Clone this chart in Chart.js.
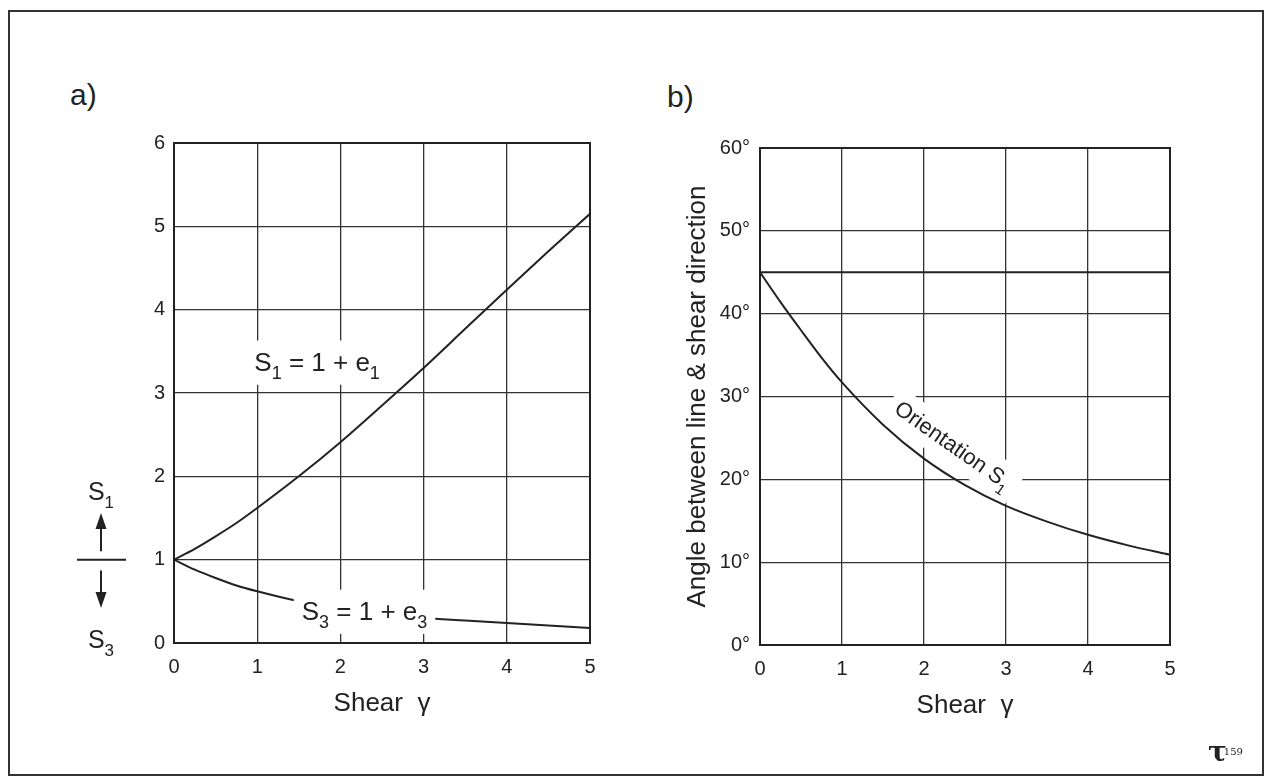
<!DOCTYPE html>
<html lang="en">
<head>
  <meta charset="UTF-8" />
  <title>Simple shear - principal stretches</title>
  <script src="https://cdn.jsdelivr.net/npm/chart.js"></script>
  <style>
    body {
      margin: 0;
      background: #fff;
      font-family: 'Liberation Sans', Arial, Helvetica, sans-serif;
      color: #222;
    }
    .page {
      position: relative;
      width: 1264px;
      height: 776px;
      overflow: hidden;
    }
    .frame {
      position: absolute;
      left: 8px;
      top: 10px;
      width: 1252px;
      height: 762px;
      border: 2px solid #333;
    }
    canvas { position: absolute; top: 0; }
    #chartA { left: 0; }
    #chartB { left: 632px; }
    .panel-tag {
      position: absolute;
      font-size: 30px;
    }
    .logo {
      position: absolute;
      left: 1208px;
      top: 735px;
      font-family: 'DejaVu Serif', 'Liberation Serif', serif;
      font-weight: bold;
      font-size: 28px;
      color: #222;
    }
    .logo sub { font-size: 10px; font-weight: normal; vertical-align: 6px; margin-left: -3px; }
  </style>
</head>
<body>
<div class="page">
  <div class="frame"></div>
  <div class="panel-tag" style="left:70px; top:78px;">a)</div>
  <div class="panel-tag" style="left:667px; top:80px;">b)</div>
  <canvas id="chartA" width="632" height="776"></canvas>
  <canvas id="chartB" width="632" height="776"></canvas>
  <div class="logo">τ<sub>159</sub></div>
</div>

<script>
  // values
  const gamma = [0, 0.25, 0.5, 0.75, 1, 1.5, 2, 2.5, 3, 3.5, 4, 4.5, 5];
  const stretchS1 = [1, 1.13, 1.28, 1.44, 1.62, 2.0, 2.41, 2.85, 3.30, 3.77, 4.24, 4.70, 5.15];
  const stretchS3 = [1, 0.88, 0.78, 0.69, 0.62, 0.50, 0.41, 0.35, 0.30, 0.27, 0.24, 0.21, 0.18];
  const refAngle = [45, 45, 45, 45, 45, 45, 45, 45, 45, 45, 45, 45, 45];
  const orientS1 = [45, 41.4, 38.0, 34.7, 31.7, 26.6, 22.5, 19.3, 16.8, 14.9, 13.3, 12.0, 10.9];

  const stretchTicks = [0, 1, 2, 3, 4, 5, 6];
  const angleTicks = [0, 10, 20, 30, 40, 50, 60];
  const shearTicks = [0, 1, 2, 3, 4, 5];

  const FONT = "'Liberation Sans', Arial, Helvetica, sans-serif";
  const INK = '#222';

  const pts = (xs, ys) => xs.map((x, i) => ({ x: x, y: ys[i] }));

  // text with subscripts: parts = [[text, isSub], ...]
  function richText(ctx, parts, cx, cy, size, withBox) {
    const subSize = Math.round(size * 0.68);
    let w = 0;
    parts.forEach(p => {
      ctx.font = (p[1] ? subSize : size) + 'px ' + FONT;
      w += ctx.measureText(p[0]).width;
    });
    if (withBox) {
      ctx.fillStyle = '#fff';
      ctx.fillRect(cx - w / 2 - 8, cy - size * 0.8, w + 16, size * 1.7);
    }
    let x = cx - w / 2;
    ctx.fillStyle = INK;
    ctx.textBaseline = 'alphabetic';
    ctx.textAlign = 'left';
    parts.forEach(p => {
      ctx.font = (p[1] ? subSize : size) + 'px ' + FONT;
      ctx.fillText(p[0], x, cy + size * 0.36 + (p[1] ? size * 0.32 : 0));
      x += ctx.measureText(p[0]).width;
    });
  }

  const boxPlugin = {
    id: 'box',
    beforeDatasetsDraw(chart) {
      const a = chart.chartArea, ctx = chart.ctx;
      ctx.save();
      ctx.strokeStyle = INK;
      ctx.lineWidth = 2;
      ctx.strokeRect(a.left, a.top, a.right - a.left, a.bottom - a.top);
      ctx.restore();
    }
  };

  function drawLabels(chart, labels) {
    const ctx = chart.ctx, sx = chart.scales.x, sy = chart.scales.y;
    labels.forEach(l => {
      ctx.save();
      ctx.translate(sx.getPixelForValue(l.x), sy.getPixelForValue(l.y));
      ctx.rotate((l.angle || 0) * Math.PI / 180);
      richText(ctx, l.parts, 0, 0, l.size, true);
      ctx.restore();
    });
  }

  // labels under the curves (box hides grid only) and over them (box cuts the curve)
  function labelsPlugin(under, over, extra) {
    return {
      id: 'curveLabels',
      beforeDatasetsDraw(chart) { drawLabels(chart, under); },
      afterDatasetsDraw(chart) {
        drawLabels(chart, over);
        if (extra) { chart.ctx.save(); extra(chart); chart.ctx.restore(); }
      }
    };
  }

  function arrow(ctx, x, y1, y2) {
    const dir = Math.sign(y2 - y1);
    ctx.beginPath();
    ctx.moveTo(x, y1);
    ctx.lineTo(x, y2 - dir * 10);
    ctx.stroke();
    ctx.beginPath();
    ctx.moveTo(x, y2);
    ctx.lineTo(x - 5.5, y2 - dir * 16);
    ctx.lineTo(x + 5.5, y2 - dir * 16);
    ctx.closePath();
    ctx.fill();
  }

  // S1 / S3 key left of panel a
  function stretchKey(chart) {
    const ctx = chart.ctx, sy = chart.scales.y;
    const cx = chart.chartArea.left - 73;
    ctx.strokeStyle = INK;
    ctx.fillStyle = INK;
    ctx.lineWidth = 2;
    ctx.beginPath();
    ctx.moveTo(cx - 24, sy.getPixelForValue(1));
    ctx.lineTo(cx + 25, sy.getPixelForValue(1));
    ctx.stroke();
    arrow(ctx, cx, sy.getPixelForValue(1.1), sy.getPixelForValue(1.56));
    arrow(ctx, cx, sy.getPixelForValue(0.87), sy.getPixelForValue(0.42));
    richText(ctx, [['S', false], ['1', true]], cx, sy.getPixelForValue(1.83), 25, false);
    richText(ctx, [['S', false], ['3', true]], cx, sy.getPixelForValue(0.05), 25, false);
  }

  function axisOpts(min, max, ticks, fmt, padding) {
    return {
      type: 'linear',
      min: min,
      max: max,
      afterBuildTicks: s => { s.ticks = ticks.map(v => ({ value: v })); },
      ticks: {
        color: INK,
        padding: padding,
        font: { family: FONT, size: 20 },
        callback: fmt
      },
      grid: { color: '#333', lineWidth: 1.3, drawTicks: false },
      border: { color: INK, width: 2 }
    };
  }

  const lineStyle = { borderColor: INK, borderWidth: 2, pointRadius: 0, fill: false, cubicInterpolationMode: 'monotone' };

  // panel a
  const xA = axisOpts(0, 5, shearTicks, v => v, 12);
  xA.title = { display: true, text: 'Shear  γ', color: INK, font: { family: FONT, size: 26 }, padding: 0 };
  xA.afterFit = s => { s.height = 76; };
  const yA = axisOpts(0, 6, stretchTicks, v => v, 9);
  yA.afterFit = s => { s.width = 40; };

  new Chart(document.getElementById('chartA'), {
    type: 'line',
    data: {
      datasets: [
        Object.assign({ label: 'S1 = 1 + e1', data: pts(gamma, stretchS1) }, lineStyle),
        Object.assign({ label: 'S3 = 1 + e3', data: pts(gamma, stretchS3) }, lineStyle)
      ]
    },
    options: {
      responsive: false,
      animation: false,
      layout: { padding: { left: 134, top: 143, right: 42, bottom: 57 } },
      plugins: { legend: { display: false }, tooltip: { enabled: false } },
      scales: { x: xA, y: yA }
    },
    plugins: [boxPlugin, labelsPlugin(
      [{ x: 1.72, y: 3.38, size: 26, parts: [['S', false], ['1', true], [' = 1 + e', false], ['1', true]] }],
      [{ x: 2.29, y: 0.39, size: 26, parts: [['S', false], ['3', true], [' = 1 + e', false], ['3', true]] }],
      stretchKey)]
  });

  // panel b
  const xB = axisOpts(0, 5, shearTicks, v => v, 12);
  xB.title = { display: true, text: 'Shear  γ', color: INK, font: { family: FONT, size: 26 }, padding: 0 };
  xB.afterFit = s => { s.height = 76; };
  const yB = axisOpts(0, 60, angleTicks, v => v + '°', 10);
  yB.title = { display: true, text: 'Angle between line & shear direction', color: INK, font: { family: FONT, size: 26 }, padding: 0 };
  yB.afterFit = s => { s.width = 78; };

  new Chart(document.getElementById('chartB'), {
    type: 'line',
    data: {
      datasets: [
        Object.assign({ label: '45°', data: pts(gamma, refAngle) }, lineStyle),
        Object.assign({ label: 'Orientation S1', data: pts(gamma, orientS1) }, lineStyle)
      ]
    },
    options: {
      responsive: false,
      animation: false,
      layout: { padding: { left: 50, top: 148, right: 94, bottom: 55 } },
      plugins: { legend: { display: false }, tooltip: { enabled: false } },
      scales: { x: xB, y: yB }
    },
    plugins: [boxPlugin, labelsPlugin(
      [{ x: 2.36, y: 24.2, size: 22, angle: 35, parts: [['Orientation S', false], ['1', true]] }],
      [])]
  });
</script>
</body>
</html>
